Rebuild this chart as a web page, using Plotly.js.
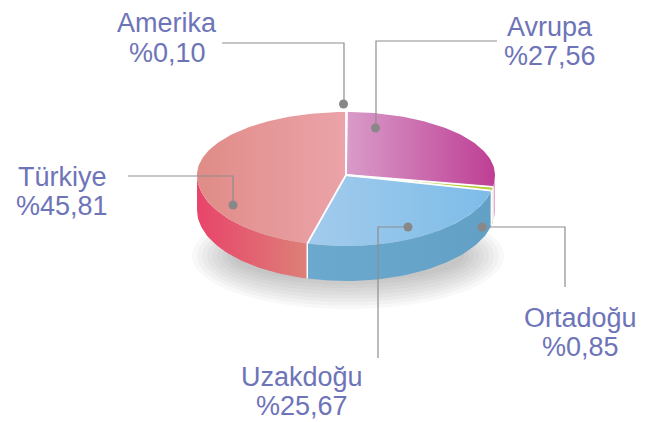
<!DOCTYPE html>
<html>
<head>
<meta charset="utf-8">
<script src="https://cdn.plot.ly/plotly-3.0.1.min.js"></script>
<style>html,body{margin:0;padding:0;background:#fff;}#chart{width:651px;height:422px;}</style>
</head>
<body>
<div id="chart"></div>
<script>
// ---- data ----
const regions = ["Amerika", "Avrupa", "Ortadoğu", "Uzakdoğu", "Türkiye"];
const shares = [0.10, 27.56, 0.85, 25.67, 45.81];
const shareLabels = ["%0,10", "%27,56", "%0,85", "%25,67", "%45,81"];

// ---- styles ----
const topColors = [
  ["#62C6CB", "#62C6CB"],
  ["#D99CC9", "#BE3E94"],
  ["#B7CC36", "#B7CC36"],
  ["#A3CBEC", "#7DBCE8"],
  ["#E08C87", "#EBA3A9"]
];
const sideColors = [
  ["#55B8BD", "#55B8BD"],
  ["#E2AAD3", "#E2AAD3"],
  ["#AFC232", "#AFC232"],
  ["#6CA9CF", "#62A0C6"],
  ["#E8446A", "#DD8078"]
];
const textColor = "#6E74B8";
const geom = {cx: 346, cy: 175, rx: 149, ryBack: 63, ryFront: 71, depth: 35};

function pt(deg, dy) {
  const t = deg * Math.PI / 180;
  const c = Math.cos(t);
  const ry = c > 0 ? geom.ryBack : geom.ryFront;
  return [geom.cx + geom.rx * Math.sin(t), geom.cy - ry * c + (dy || 0)];
}
function arc(a0, a1, dy) {
  const n = Math.max(2, Math.ceil(Math.abs(a1 - a0) / 1.5));
  const xs = [], ys = [];
  for (let i = 0; i <= n; i++) {
    const p = pt(a0 + (a1 - a0) * i / n, dy);
    xs.push(p[0]); ys.push(p[1]);
  }
  return [xs, ys];
}

const total = shares.reduce((a, b) => a + b, 0);
const bounds = [];
let acc = 0;
shares.forEach(v => { const a0 = acc / total * 360; acc += v; bounds.push([a0, acc / total * 360]); });

const traces = [];
// side walls (front half only)
bounds.forEach((b, i) => {
  const s = Math.max(b[0], 90), e = Math.min(b[1], 270);
  if (e <= s) return;
  const top = arc(s, e, 0), bot = arc(e, s, geom.depth);
  traces.push({
    type: "scatter", mode: "lines", x: top[0].concat(bot[0]), y: top[1].concat(bot[1]),
    fill: "toself", line: {width: 0}, hoverinfo: "skip", showlegend: false,
    fillgradient: {type: "horizontal", colorscale: [[0, sideColors[i][0]], [1, sideColors[i][1]]]}
  });
});
// vertical separators on the side
bounds.forEach(b => {
  const a = b[0];
  if (a > 90 && a < 270) {
    const p = pt(a, 0), q = pt(a, geom.depth);
    traces.push({type: "scatter", mode: "lines", x: [p[0], q[0]], y: [p[1], q[1]],
      line: {color: "#ffffff", width: 1.5}, hoverinfo: "skip", showlegend: false});
  }
});
// top faces
bounds.forEach((b, i) => {
  const a = arc(b[0], b[1], 0);
  traces.push({
    type: "scatter", mode: "lines", x: [geom.cx].concat(a[0], [geom.cx]), y: [geom.cy].concat(a[1], [geom.cy]),
    fill: "toself", line: {width: 0}, hoverinfo: "skip", showlegend: false, name: regions[i],
    fillgradient: {type: "horizontal", colorscale: [[0, topColors[i][0]], [1, topColors[i][1]]]}
  });
});
// radial separators
bounds.forEach(b => {
  const p = pt(b[0], 0);
  traces.push({type: "scatter", mode: "lines", x: [geom.cx, p[0]], y: [geom.cy, p[1]],
    line: {color: "#ffffff", width: 1.8}, hoverinfo: "skip", showlegend: false});
});

// labels
const labelPos = {
  "Amerika":  {x: 167, y1: 23, y2: 53},
  "Avrupa":   {x: 550, y1: 27, y2: 56},
  "Ortadoğu": {x: 580, y1: 318, y2: 347},
  "Uzakdoğu": {x: 302, y1: 377, y2: 406},
  "Türkiye":  {x: 62,  y1: 177, y2: 206}
};
const annotations = [];
regions.forEach((r, i) => {
  const p = labelPos[r];
  const f = {family: "Liberation Sans, Arial, sans-serif", size: 27, color: textColor};
  annotations.push({x: p.x, y: p.y1, xref: "x", yref: "y", text: r, showarrow: false, font: f, xanchor: "center", yanchor: "middle"});
  annotations.push({x: p.x, y: p.y2, xref: "x", yref: "y", text: shareLabels[i], showarrow: false, font: f, xanchor: "center", yanchor: "middle"});
});

// leader lines and dots
const leaders = [
  {path: "M 222 43 H 344 V 104", dot: [343.5, 104]},
  {path: "M 497 41 H 376 V 128", dot: [375.5, 128]},
  {path: "M 482 227 H 565 V 287", dot: [482, 227]},
  {path: "M 408 227 H 378 V 358", dot: [408, 227]},
  {path: "M 128 176 H 233 V 205", dot: [233, 205]}
];
const shapes = [];
// soft shadow
for (let k = 0; k < 9; k++) {
  const rx = 156 - k * 5, ry = 53 - k * 3.5;
  shapes.push({type: "circle", xref: "x", yref: "y", x0: 348 - rx, x1: 348 + rx, y0: 256 - ry, y1: 256 + ry,
    fillcolor: "rgba(80,80,80,0.04)", line: {width: 0}, layer: "below"});
}
leaders.forEach(l => {
  shapes.push({type: "path", xref: "x", yref: "y", path: l.path, line: {color: "#8E8E8E", width: 1.2}, layer: "above"});
  shapes.push({type: "circle", xref: "x", yref: "y", x0: l.dot[0] - 4.5, x1: l.dot[0] + 4.5, y0: l.dot[1] - 4.5, y1: l.dot[1] + 4.5,
    fillcolor: "#888888", line: {width: 0}, layer: "above"});
});

const layout = {
  width: 651, height: 422,
  margin: {l: 0, r: 0, t: 0, b: 0},
  paper_bgcolor: "#ffffff", plot_bgcolor: "#ffffff",
  xaxis: {range: [0, 651], visible: false, fixedrange: true},
  yaxis: {range: [422, 0], visible: false, fixedrange: true},
  showlegend: false,
  annotations: annotations,
  shapes: shapes
};
Plotly.newPlot("chart", traces, layout, {staticPlot: true, displayModeBar: false});
</script>
</body>
</html>
